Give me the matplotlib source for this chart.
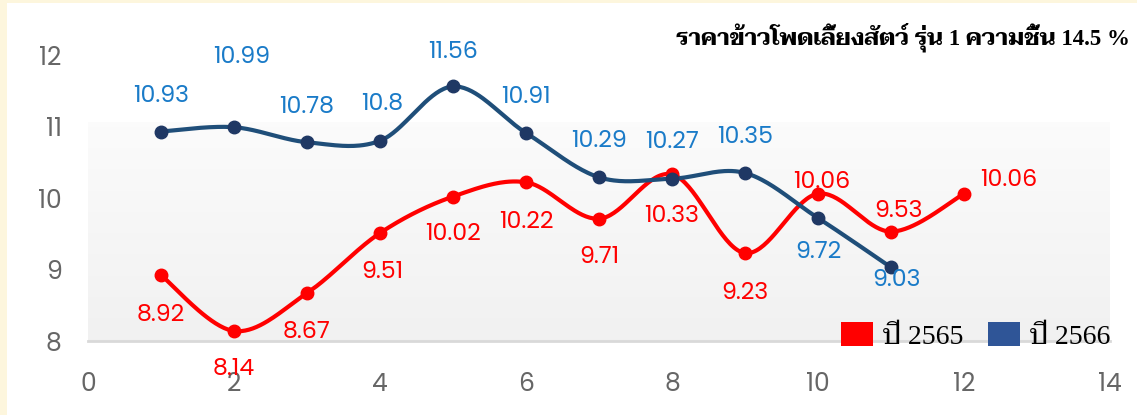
import matplotlib
matplotlib.use("Agg")
import matplotlib.pyplot as plt
import numpy as np
from matplotlib.patches import Patch, Rectangle

# data
months = [1, 2, 3, 4, 5, 6, 7, 8, 9, 10, 11, 12]
price_2565 = [8.92, 8.14, 8.67, 9.51, 10.02, 10.22, 9.71, 10.33, 9.23, 10.06, 9.53, 10.06]
price_2566 = [10.93, 10.99, 10.78, 10.8, 11.56, 10.91, 10.29, 10.27, 10.35, 9.72, 9.03]
x_ticks = [0, 2, 4, 6, 8, 10, 12, 14]
y_ticks = [8, 9, 10, 11, 12]
title = "ราคาข้าวโพดเลี้ยงสัตว์ รุ่น 1 ความชื้น 14.5 %"
labels = ["ปี 2565", "ปี 2566"]

RED = "#FF0000"
BLUE_LINE = "#1F4E79"
BLUE_MARK = "#1F3864"
BLUE_TXT = "#1A7BC8"
BLUE_PATCH = "#2F5597"
CREAM = "#FDF6DD"

NUM_FONT = ["Poppins", "Lato", "DejaVu Sans"]
SERIF_FONT = ["Liberation Serif", "Taviraj", "Sarabun", "Trirong", "Noto Serif Thai",
              "Noto Sans Thai", "DejaVu Serif"]

# label offsets in pixels (dx, dy up-positive), placement only
off_2565 = [(0, -40), (0, -39), (0, -39), (2, -39), (0, -38), (0, -40),
            (0, -39), (0, -42), (0, -40), (4, 11), (8, 20), (45, 13)]
off_2566 = [(0, 35), (8, 70), (0, 35), (2, 36), (0, 34), (0, 35),
            (0, 36), (0, 36), (0, 35), (0, -34), (5, -13)]


def smooth(xs, ys, n=40):
    """Excel-like smoothed line: cubic Bezier through points, Catmull-Rom tangents."""
    p = np.column_stack([xs, ys]).astype(float)
    out = []
    for i in range(len(p) - 1):
        p0 = p[i - 1] if i > 0 else p[i]
        p1, p2 = p[i], p[i + 1]
        p3 = p[i + 2] if i + 2 < len(p) else p[i + 1]
        c1 = p1 + (p2 - p0) / 6.0
        c2 = p2 - (p3 - p1) / 6.0
        t = np.linspace(0, 1, n)[:, None]
        seg = ((1 - t) ** 3) * p1 + 3 * ((1 - t) ** 2) * t * c1 + 3 * (1 - t) * t ** 2 * c2 + t ** 3 * p2
        out.append(seg if i == 0 else seg[1:])
    seg = np.vstack(out)
    return seg[:, 0], seg[:, 1]


fig = plt.figure(figsize=(11.37, 4.15), dpi=100)
fig.patch.set_facecolor(CREAM)
fig.add_artist(Rectangle((7 / 1137, 0), 1, (415 - 3) / 415, transform=fig.transFigure,
                         facecolor="white", edgecolor="none", zorder=-10))

ax = fig.add_axes([88 / 1137, (415 - 341) / 415, 1022 / 1137, 286 / 415])
ax.set_facecolor("none")

# soft grey gradient plot area
grad = np.linspace(0.985, 0.945, 100)[:, None]
ax.imshow(np.dstack([grad, grad, grad]), extent=(0, 14, 8, 11.05), aspect="auto",
          origin="upper", zorder=0, interpolation="bilinear")
ax.set_xlim(0, 14)
ax.set_ylim(8, 12)

sx, sy = smooth(months, price_2565)
ax.plot(sx, sy, color=RED, lw=3.0, zorder=3, clip_on=False, solid_capstyle="round")
ax.plot(months, price_2565, "o", color=RED, ms=9, zorder=4, clip_on=False)

m2 = months[:len(price_2566)]
sx, sy = smooth(m2, price_2566)
ax.plot(sx, sy, color=BLUE_LINE, lw=3.0, zorder=3, clip_on=False, solid_capstyle="round")
ax.plot(m2, price_2566, "o", color=BLUE_MARK, ms=9, zorder=4, clip_on=False)

px2pt = 72 / 100
for x, y, (dx, dy) in zip(months, price_2565, off_2565):
    ax.annotate(f"{y:g}", (x, y), xytext=(dx * px2pt, dy * px2pt), textcoords="offset points",
                ha="center", va="center", color=RED, fontsize=17,
                family=NUM_FONT, zorder=5, annotation_clip=False)
for x, y, (dx, dy) in zip(m2, price_2566, off_2566):
    ax.annotate(f"{y:g}", (x, y), xytext=(dx * px2pt, dy * px2pt), textcoords="offset points",
                ha="center", va="center", color=BLUE_TXT, fontsize=17,
                family=NUM_FONT, zorder=5, annotation_clip=False)

ax.set_xticks(x_ticks)
ax.set_yticks(y_ticks)
ax.tick_params(length=0, labelsize=18, labelcolor="#666666")
ax.tick_params(axis="x", pad=22)
ax.tick_params(axis="y", pad=19)
for lab in ax.get_xticklabels() + ax.get_yticklabels():
    lab.set_family(NUM_FONT)
for s in ("top", "right", "left"):
    ax.spines[s].set_visible(False)
ax.spines["bottom"].set_color("#D9D9D9")
ax.spines["bottom"].set_linewidth(2)
ax.spines["bottom"].set_bounds(0, 14)

handles = [Patch(facecolor=RED, edgecolor="none"), Patch(facecolor=BLUE_PATCH, edgecolor="none")]
ax.legend(handles, labels, loc="lower right", bbox_to_anchor=(1.0, -0.03), ncol=2, frameon=False,
          prop={"family": SERIF_FONT, "size": 20}, handlelength=1.15, handleheight=1.0,
          handletextpad=0.35, columnspacing=0.9, borderaxespad=0, borderpad=0)

fig.text(1130 / 1137, 1 - 37 / 415, title, ha="right", va="center", fontsize=16.5,
         fontweight="bold", family=SERIF_FONT)

fig.savefig("out.png", dpi=100, facecolor=fig.get_facecolor())
